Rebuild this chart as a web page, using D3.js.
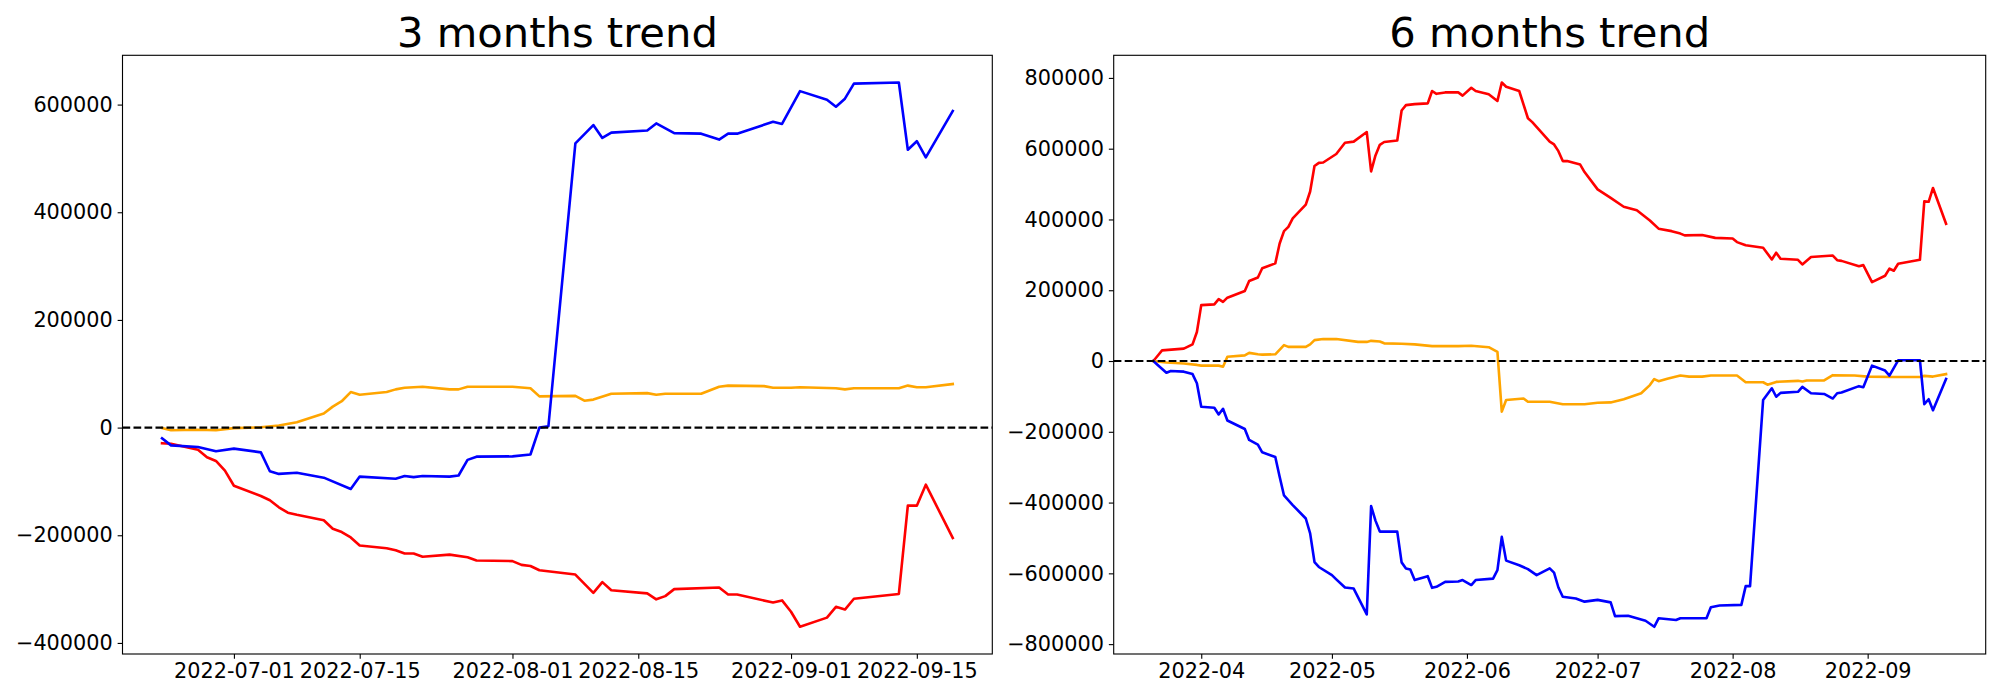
<!DOCTYPE html>
<html><head><meta charset="utf-8">
<script src="https://cdn.jsdelivr.net/npm/d3@7"></script>
<style>body{margin:0;background:#fff}</style>
</head><body><svg id="c" width="2000" height="700"></svg>
<script>
// ---------- 3 months data ----------
const red3m = [["2022-06-23",-29000],["2022-06-24",-30000],["2022-06-27",-41000],["2022-06-28",-55000],["2022-06-29",-62000],["2022-06-30",-80000],["2022-07-01",-108000],["2022-07-04",-127000],["2022-07-05",-135000],["2022-07-06",-148000],["2022-07-07",-158000],["2022-07-08",-162000],["2022-07-11",-172000],["2022-07-12",-188000],["2022-07-13",-194000],["2022-07-14",-204000],["2022-07-15",-219000],["2022-07-18",-224000],["2022-07-19",-228000],["2022-07-20",-234000],["2022-07-21",-234000],["2022-07-22",-240000],["2022-07-25",-236000],["2022-07-27",-241000],["2022-07-28",-247000],["2022-08-01",-248000],["2022-08-02",-255000],["2022-08-03",-257000],["2022-08-04",-265000],["2022-08-08",-273000],["2022-08-10",-307000],["2022-08-11",-287000],["2022-08-12",-302000],["2022-08-16",-308000],["2022-08-17",-319000],["2022-08-18",-313000],["2022-08-19",-300000],["2022-08-24",-297000],["2022-08-25",-310000],["2022-08-26",-310000],["2022-08-30",-325000],["2022-08-31",-321000],["2022-09-01",-342000],["2022-09-02",-370000],["2022-09-05",-353000],["2022-09-06",-333000],["2022-09-07",-338000],["2022-09-08",-318000],["2022-09-13",-309000],["2022-09-14",-145000],["2022-09-15",-145000],["2022-09-16",-106000],["2022-09-19",-205000]];
const orange3m = [["2022-06-23",-1000],["2022-06-24",-5000],["2022-06-27",-4000],["2022-06-29",-5000],["2022-07-01",-1000],["2022-07-04",600],["2022-07-06",4000],["2022-07-08",10000],["2022-07-11",26000],["2022-07-12",39000],["2022-07-13",49000],["2022-07-14",66000],["2022-07-15",61000],["2022-07-18",66000],["2022-07-19",71000],["2022-07-20",74000],["2022-07-22",76000],["2022-07-25",71000],["2022-07-26",71000],["2022-07-27",76000],["2022-08-01",76000],["2022-08-03",73000],["2022-08-04",58000],["2022-08-08",59000],["2022-08-09",50000],["2022-08-10",52000],["2022-08-12",63000],["2022-08-16",64000],["2022-08-17",61000],["2022-08-18",63000],["2022-08-22",63000],["2022-08-24",76000],["2022-08-25",78000],["2022-08-29",77000],["2022-08-30",74000],["2022-09-01",74000],["2022-09-02",75000],["2022-09-06",73000],["2022-09-07",71000],["2022-09-08",73000],["2022-09-13",73000],["2022-09-14",78000],["2022-09-15",75000],["2022-09-16",75000],["2022-09-19",81000]];
const blue3m = [["2022-06-23",-20000],["2022-06-24",-33000],["2022-06-27",-36000],["2022-06-29",-44000],["2022-07-01",-39000],["2022-07-04",-46000],["2022-07-05",-81000],["2022-07-06",-86000],["2022-07-08",-84000],["2022-07-11",-93000],["2022-07-14",-114000],["2022-07-15",-91000],["2022-07-19",-95000],["2022-07-20",-90000],["2022-07-21",-92000],["2022-07-22",-90000],["2022-07-25",-91000],["2022-07-26",-89000],["2022-07-27",-60000],["2022-07-28",-54000],["2022-08-01",-53500],["2022-08-03",-50000],["2022-08-04",0],["2022-08-05",2500],["2022-08-08",528000],["2022-08-10",562000],["2022-08-11",538000],["2022-08-12",548000],["2022-08-16",552000],["2022-08-17",565000],["2022-08-19",547000],["2022-08-22",546000],["2022-08-24",535000],["2022-08-25",546000],["2022-08-26",546000],["2022-08-30",568000],["2022-08-31",564000],["2022-09-02",625000],["2022-09-05",609000],["2022-09-06",596000],["2022-09-07",611000],["2022-09-08",639000],["2022-09-13",641000],["2022-09-14",516000],["2022-09-15",532000],["2022-09-16",502000],["2022-09-19",588000]];
const xTicks3m = ["2022-07-01","2022-07-15","2022-08-01","2022-08-15","2022-09-01","2022-09-15"];
const yTicks3m = [-400000,-200000,0,200000,400000,600000];

// ---------- 6 months data ----------
const red6m = [["2022-03-21",0],["2022-03-22",15000],["2022-03-23",30000],["2022-03-28",35000],["2022-03-30",47000],["2022-03-31",82000],["2022-04-01",158000],["2022-04-04",160000],["2022-04-05",175000],["2022-04-06",167000],["2022-04-07",179000],["2022-04-11",198000],["2022-04-12",226000],["2022-04-14",236000],["2022-04-15",262000],["2022-04-18",276000],["2022-04-19",332000],["2022-04-20",367000],["2022-04-21",379000],["2022-04-22",403000],["2022-04-25",442000],["2022-04-26",479000],["2022-04-27",551000],["2022-04-28",560000],["2022-04-29",561000],["2022-05-02",585000],["2022-05-04",617000],["2022-05-06",620000],["2022-05-09",647000],["2022-05-10",536000],["2022-05-11",581000],["2022-05-12",611000],["2022-05-13",619000],["2022-05-16",623000],["2022-05-17",708000],["2022-05-18",723000],["2022-05-20",726000],["2022-05-23",728000],["2022-05-24",763000],["2022-05-25",755000],["2022-05-27",759000],["2022-05-30",759000],["2022-05-31",750000],["2022-06-02",772000],["2022-06-03",763000],["2022-06-06",754000],["2022-06-08",735000],["2022-06-09",787000],["2022-06-10",775000],["2022-06-13",763000],["2022-06-15",686000],["2022-06-16",675000],["2022-06-20",620000],["2022-06-21",612000],["2022-06-22",593000],["2022-06-23",565000],["2022-06-24",565000],["2022-06-27",555000],["2022-06-28",534000],["2022-07-01",485000],["2022-07-04",461000],["2022-07-07",436000],["2022-07-10",426000],["2022-07-13",397000],["2022-07-15",374000],["2022-07-18",367000],["2022-07-20",360000],["2022-07-21",355000],["2022-07-25",356000],["2022-07-28",348000],["2022-08-01",346000],["2022-08-02",336000],["2022-08-04",327000],["2022-08-08",320000],["2022-08-10",287000],["2022-08-11",306000],["2022-08-12",289000],["2022-08-16",286000],["2022-08-17",273000],["2022-08-19",294000],["2022-08-24",298000],["2022-08-25",285000],["2022-08-26",283000],["2022-08-30",268000],["2022-08-31",271000],["2022-09-02",223000],["2022-09-05",241000],["2022-09-06",261000],["2022-09-07",255000],["2022-09-08",275000],["2022-09-13",286000],["2022-09-14",451000],["2022-09-15",450000],["2022-09-16",489000],["2022-09-19",388000]];
const orange6m = [["2022-03-21",0],["2022-03-24",-4000],["2022-03-28",-7000],["2022-03-31",-11000],["2022-04-01",-13000],["2022-04-05",-13000],["2022-04-06",-16000],["2022-04-07",12000],["2022-04-11",16000],["2022-04-12",23000],["2022-04-14",19000],["2022-04-15",18000],["2022-04-18",19000],["2022-04-20",45000],["2022-04-21",40000],["2022-04-25",40000],["2022-04-26",47000],["2022-04-27",59000],["2022-04-29",62000],["2022-05-02",62000],["2022-05-07",54000],["2022-05-09",54000],["2022-05-10",57000],["2022-05-12",55000],["2022-05-13",50000],["2022-05-17",49000],["2022-05-20",47000],["2022-05-24",42000],["2022-05-30",42000],["2022-06-02",43000],["2022-06-06",39000],["2022-06-08",26000],["2022-06-09",-143000],["2022-06-10",-110000],["2022-06-14",-106000],["2022-06-15",-115000],["2022-06-20",-115000],["2022-06-23",-122000],["2022-06-28",-122000],["2022-07-01",-118000],["2022-07-04",-117000],["2022-07-07",-108000],["2022-07-11",-91000],["2022-07-13",-68000],["2022-07-14",-51000],["2022-07-15",-57000],["2022-07-17",-50000],["2022-07-20",-41000],["2022-07-22",-44000],["2022-07-25",-44000],["2022-07-27",-41000],["2022-08-02",-41000],["2022-08-04",-60000],["2022-08-08",-60000],["2022-08-09",-67000],["2022-08-11",-59000],["2022-08-16",-56000],["2022-08-17",-58000],["2022-08-18",-55000],["2022-08-22",-55000],["2022-08-24",-40000],["2022-08-29",-41000],["2022-09-01",-44000],["2022-09-07",-45000],["2022-09-13",-45000],["2022-09-14",-42000],["2022-09-16",-44000],["2022-09-19",-37000]];
const blue6m = [["2022-03-21",0],["2022-03-22",-11000],["2022-03-24",-33000],["2022-03-25",-28000],["2022-03-28",-30000],["2022-03-30",-37000],["2022-03-31",-63000],["2022-04-01",-129000],["2022-04-04",-132000],["2022-04-05",-151000],["2022-04-06",-135000],["2022-04-07",-168000],["2022-04-11",-192000],["2022-04-12",-223000],["2022-04-14",-236000],["2022-04-15",-258000],["2022-04-18",-271000],["2022-04-19",-327000],["2022-04-20",-380000],["2022-04-22",-407000],["2022-04-25",-445000],["2022-04-26",-487000],["2022-04-27",-568000],["2022-04-28",-582000],["2022-05-01",-605000],["2022-05-02",-617000],["2022-05-04",-640000],["2022-05-06",-643000],["2022-05-09",-716000],["2022-05-10",-410000],["2022-05-11",-451000],["2022-05-12",-482000],["2022-05-16",-482000],["2022-05-17",-569000],["2022-05-18",-586000],["2022-05-19",-589000],["2022-05-20",-619000],["2022-05-23",-608000],["2022-05-24",-641000],["2022-05-25",-638000],["2022-05-27",-624000],["2022-05-30",-623000],["2022-05-31",-619000],["2022-06-02",-633000],["2022-06-03",-619000],["2022-06-07",-615000],["2022-06-08",-591000],["2022-06-09",-497000],["2022-06-10",-564000],["2022-06-13",-577000],["2022-06-15",-588000],["2022-06-17",-605000],["2022-06-20",-586000],["2022-06-21",-598000],["2022-06-22",-640000],["2022-06-23",-666000],["2022-06-26",-671000],["2022-06-28",-680000],["2022-07-01",-675000],["2022-07-04",-682000],["2022-07-05",-721000],["2022-07-08",-720000],["2022-07-12",-734000],["2022-07-14",-751000],["2022-07-15",-727000],["2022-07-19",-732000],["2022-07-20",-727000],["2022-07-26",-727000],["2022-07-27",-696000],["2022-07-29",-691000],["2022-08-03",-689000],["2022-08-04",-636000],["2022-08-05",-636000],["2022-08-08",-110000],["2022-08-10",-77000],["2022-08-11",-101000],["2022-08-12",-90000],["2022-08-16",-87000],["2022-08-17",-73000],["2022-08-19",-91000],["2022-08-22",-93000],["2022-08-24",-106000],["2022-08-25",-91000],["2022-08-26",-89000],["2022-08-30",-71000],["2022-08-31",-74000],["2022-09-02",-13000],["2022-09-05",-27000],["2022-09-06",-41000],["2022-09-08",2000],["2022-09-13",2000],["2022-09-14",-122000],["2022-09-15",-108000],["2022-09-16",-139000],["2022-09-19",-51000]];
const xTicks6m = ["2022-04-01","2022-05-01","2022-06-01","2022-07-01","2022-08-01","2022-09-01"];
const yTicks6m = [-800000,-600000,-400000,-200000,0,200000,400000,600000,800000];

const FONT = "DejaVu Sans";
const svg = d3.select("#c");
const parse = d3.utcParse("%Y-%m-%d");
const yFmt = v => v < 0 ? "\u2212" + Math.abs(v) : String(v);

function panel(cfg) {
  const {left, right, top, bottom, title, series, xTicks, xFmt, yTicks} = cfg;
  const all = series.flatMap(s => s.data.map(d => ({t: parse(d[0]), v: d[1]})));
  const [t0, t1] = d3.extent(all, d => d.t);
  const ts = t1 - t0;
  const x = d3.scaleUtc().domain([new Date(+t0 - 0.05 * ts), new Date(+t1 + 0.05 * ts)]).range([left, right]);
  const [v0, v1] = d3.extent(all, d => d.v);
  const vs = v1 - v0;
  const y = d3.scaleLinear().domain([v0 - 0.05 * vs, v1 + 0.05 * vs]).range([bottom, top]);

  const g = svg.append("g");
  const line = d3.line().x(d => x(parse(d[0]))).y(d => y(d[1]));
  series.forEach(s => {
    g.append("path").datum(s.data).attr("d", line)
      .attr("fill", "none").attr("stroke", s.color).attr("stroke-width", 2.6)
      .attr("stroke-linejoin", "round").attr("stroke-linecap", "square");
  });
  g.append("line").attr("x1", left).attr("x2", right).attr("y1", y(0)).attr("y2", y(0))
    .attr("stroke", "#000").attr("stroke-width", 2.1).attr("stroke-dasharray", "7.7,3.3");

  const xa = g.append("g").attr("transform", `translate(0,${bottom})`)
    .call(d3.axisBottom(x).tickValues(xTicks.map(parse)).tickFormat(xFmt).tickSize(4.86).tickPadding(4.86));
  const ya = g.append("g").attr("transform", `translate(${left},0)`)
    .call(d3.axisLeft(y).tickValues(yTicks).tickFormat(yFmt).tickSize(4.86).tickPadding(4.86));
  [xa, ya].forEach(a => {
    a.select(".domain").remove();
    a.selectAll(".tick line").attr("stroke", "#000").attr("stroke-width", 1.11);
    a.selectAll(".tick text").attr("fill", "#000").style("font-family", FONT).style("font-size", "20.8px");
  });
  g.append("rect").attr("x", left).attr("y", top).attr("width", right - left).attr("height", bottom - top)
    .attr("fill", "none").attr("stroke", "#000").attr("stroke-width", 1.11);
  g.append("text").attr("x", (left + right) / 2).attr("y", top - 8.3).attr("text-anchor", "middle")
    .style("font-family", FONT).style("font-size", "41.67px").attr("fill", "#000").text(title);
}

panel({left: 122.5, right: 992.3, top: 55.3, bottom: 654, title: "3 months trend",
  series: [{data: red3m, color: "#ff0000"}, {data: orange3m, color: "#ffa500"}, {data: blue3m, color: "#0000ff"}],
  xTicks: xTicks3m, xFmt: d3.utcFormat("%Y-%m-%d"), yTicks: yTicks3m});
panel({left: 1113.7, right: 1985.7, top: 55.3, bottom: 654, title: "6 months trend",
  series: [{data: red6m, color: "#ff0000"}, {data: orange6m, color: "#ffa500"}, {data: blue6m, color: "#0000ff"}],
  xTicks: xTicks6m, xFmt: d3.utcFormat("%Y-%m"), yTicks: yTicks6m});
</script>
</body></html>
